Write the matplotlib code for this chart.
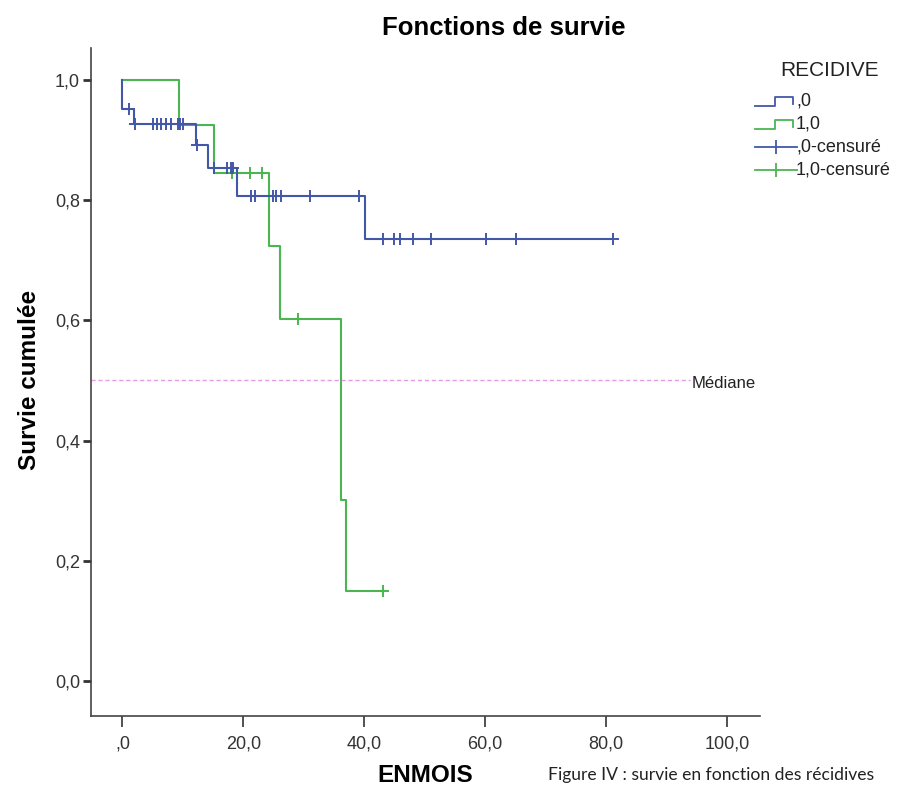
import matplotlib
matplotlib.use("Agg")
import matplotlib.pyplot as plt
from matplotlib.lines import Line2D

plt.rcParams['font.family'] = ['Liberation Sans', 'DejaVu Sans']

# ---- data ----
# group ,0 (no recurrence)
t0_events = [0.0, 1.9, 12.1, 14.1, 19.0, 40.2]
s0_levels = [0.952, 0.927, 0.892, 0.853, 0.807, 0.735]
t0_end = 81.1
t0_cens = [1.05, 2.0, 5.0, 5.7, 6.4, 7.2, 8.0, 9.2, 9.5, 10.0, 12.4,
           15.1, 17.3, 17.9, 18.3, 21.3, 21.9, 24.9, 25.4, 26.3, 31.1, 39.1,
           43.1, 44.9, 45.9, 48.1, 51.0, 60.1, 65.1, 81.1]
# group 1,0 (recurrence)
t1_events = [9.3, 15.2, 24.2, 26.1, 36.2, 37.0]
s1_levels = [0.925, 0.845, 0.724, 0.602, 0.301, 0.150]
t1_end = 43.1
t1_cens = [18.2, 21.1, 23.1, 29.1, 43.1]

median_level = 0.5
xticks = [0, 20, 40, 60, 80, 100]
xticklabels = [',0', '20,0', '40,0', '60,0', '80,0', '100,0']
yticks = [0.0, 0.2, 0.4, 0.6, 0.8, 1.0]
yticklabels = ['0,0', '0,2', '0,4', '0,6', '0,8', '1,0']
legend_labels = [',0', '1,0', ',0-censuré', '1,0-censuré']

BLUE = '#4257a8'
GREEN = '#4bb552'
PINK = '#e79ae8'


def km_path(events, levels, end):
    xs = [0.0]
    ys = [1.0]
    for t, s in zip(events, levels):
        xs.append(t)
        ys.append(ys[-1])
        xs.append(t)
        ys.append(s)
    xs.append(end)
    ys.append(ys[-1])
    return xs, ys


def level_at(events, levels, t):
    s = 1.0
    for e, l in zip(events, levels):
        if e <= t:
            s = l
    return s


fig = plt.figure(figsize=(9.01, 7.94), dpi=100)
ax = fig.add_axes([91 / 901, 1 - 716 / 794, (760 - 91) / 901, (716 - 48) / 794])

x0, y0 = km_path(t0_events, s0_levels, t0_end)
x1, y1 = km_path(t1_events, s1_levels, t1_end)
ax.plot(x1, y1, color=GREEN, lw=1.5, zorder=2)
ax.plot(x0, y0, color=BLUE, lw=1.5, zorder=3)
ax.plot(t1_cens, [level_at(t1_events, s1_levels, t) for t in t1_cens],
        ls='none', marker='+', ms=8, mew=1.4, color=GREEN, zorder=2)
ax.plot(t0_cens, [level_at(t0_events, s0_levels, t) for t in t0_cens],
        ls='none', marker='+', ms=8, mew=1.4, color=BLUE, zorder=3)

ax.axhline(median_level, xmin=0, xmax=(690 - 91) / (760 - 91), color=PINK,
           lw=1.0, ls=(0, (3, 2)), zorder=1)
ax.text(692 / 901, 1 - 383 / 794, 'Médiane', transform=fig.transFigure,
        fontsize=12, color='#222222', va='center', ha='left')

ax.set_xlim(-5.2, 105.5)
ax.set_ylim(-0.058, 1.053)
ax.set_xticks(xticks)
ax.set_xticklabels(xticklabels)
ax.set_yticks(yticks)
ax.set_yticklabels(yticklabels)
ax.tick_params(axis='x', direction='out', length=8, width=1.2, labelsize=13,
               colors='#333333', pad=6)
ax.tick_params(axis='y', direction='out', length=6, width=2, labelsize=13,
               colors='#333333', pad=2)
for side in ['top', 'right']:
    ax.spines[side].set_visible(False)
for side in ['left', 'bottom']:
    ax.spines[side].set_color('#444444')
    ax.spines[side].set_linewidth(1.2)

fig.text(504 / 901, 1 - 28 / 794, 'Fonctions de survie', fontsize=18.5,
         fontweight='bold', ha='center', va='center')
fig.text(30 / 901, 1 - 380 / 794, 'Survie cumulée', fontsize=17.5,
         fontweight='bold', rotation=90, ha='center', va='center')
fig.text(425 / 901, 1 - 776 / 794, 'ENMOIS', fontsize=17.5,
         fontweight='bold', ha='center', va='center')
fig.text(548 / 901, 1 - 775 / 794, 'Figure IV : survie en fonction des récidives',
         fontsize=12.6, ha='left', va='center', family=['Lato', 'DejaVu Sans'],
         color='#222222')

# legend (drawn manually in figure coordinates)
fig.text(830 / 901, 1 - 71 / 794, 'RECIDIVE', fontsize=15, ha='center',
         va='center', color='#222222')
ys_leg = [101, 124, 147, 170]
cols = [BLUE, GREEN, BLUE, GREEN]
for i, (yl, c, lab) in enumerate(zip(ys_leg, cols, legend_labels)):
    yy = 1 - yl / 794
    if i < 2:
        xs = [755, 775, 775, 793, 793]
        ys = [yl + 5, yl + 5, yl - 4, yl - 4, yl + 3]
        fig.add_artist(Line2D([v / 901 for v in xs], [1 - v / 794 for v in ys],
                              color=c, lw=1.3, transform=fig.transFigure))
    else:
        fig.add_artist(Line2D([755 / 901, 797 / 901], [yy, yy], color=c, lw=1.3,
                              transform=fig.transFigure))
        fig.add_artist(Line2D([776 / 901], [yy], color=c, marker='|', ms=10,
                              mew=1.3, transform=fig.transFigure))
    fig.text(796 / 901, yy, lab, fontsize=13, ha='left', va='center',
             color='#222222')

fig.savefig('out.png', dpi=100)
